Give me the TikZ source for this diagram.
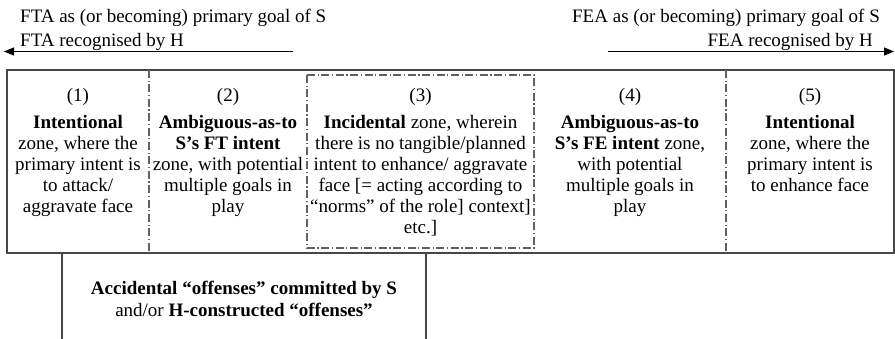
\documentclass[tikz,border=0pt]{standalone}
\usepackage{fontspec}
\setmainfont{Liberation Serif}
\usetikzlibrary{arrows.meta}
\begin{document}
\begin{tikzpicture}[x=1pt,y=-1pt,
  solidline/.style={draw=black!72, line width=1.1pt},
  dashdot/.style={draw=black!62, line width=1.1pt, dash pattern=on 8pt off 2.6pt on 1.2pt off 2.6pt},
  zone/.style={align=center, font=\fontsize{19}{21}\selectfont, inner sep=0pt, anchor=north, text=black},
  hdr/.style={font=\fontsize{19}{22}\selectfont, inner sep=0pt, text=black},
  arr/.style={draw=black, line width=1.1pt, -{Triangle[length=10pt,width=8pt]}}]
\useasboundingbox (0,0) rectangle (895,339);
% header texts
\node[hdr, anchor=base west] (fta1) at (20,23) {FTA as (or becoming) primary goal of S};
\node[hdr, anchor=base west] (fta2) at (20,46.5) {FTA recognised by H};
\node[hdr, anchor=base east] (fea1) at (880,23) {FEA as (or becoming) primary goal of S};
\node[hdr, anchor=base east] (fea2) at (873,46.5) {FEA recognised by H};
% arrows
\coordinate (la0) at (293,51.5);
\coordinate (la1) at (4,51.5);
\coordinate (ra0) at (608,51.5);
\coordinate (ra1) at (894,51.5);
\draw[arr] (la0) -- (la1);
\draw[arr] (ra0) -- (ra1);
% main rectangle
\draw[solidline] (7,70) rectangle (894,253);
% dividers
\draw[dashdot] (149,70) -- (149,253);
\draw[dashdot] (726,70) -- (726,253);
\draw[dashdot] (307,75) rectangle (534,248);
% zone texts
\node[zone] (z1) at (78,86) {\rule{0pt}{15pt}(1)\\[6pt]\textbf{Intentional}\\zone, where the\\primary intent is\\to attack/\\aggravate face};
\node[zone] (z2) at (228,86) {\rule{0pt}{15pt}(2)\\[6pt]\textbf{Ambiguous-as-to}\\\textbf{S’s FT intent}\\zone, with potential\\multiple goals in\\play};
\node[zone] (z3) at (420.5,86) {\rule{0pt}{15pt}(3)\\[6pt]\textbf{Incidental} zone, wherein\\there is no tangible/planned\\intent to enhance/ aggravate\\face [= acting according to\\“norms” of the role] context]\\etc.]};
\node[zone] (z4) at (630,86) {\rule{0pt}{15pt}(4)\\[6pt]\textbf{Ambiguous-as-to}\\\textbf{S’s FE intent} zone,\\with potential\\multiple goals in\\play};
\node[zone] (z5) at (810,86) {\rule{0pt}{15pt}(5)\\[6pt]\textbf{Intentional}\\zone, where the\\primary intent is\\to enhance face};
% bottom box
\draw[solidline] (62,339) -- (62,253) -- (426,253) -- (426,339);
\node[zone, font=\fontsize{19}{22}\selectfont] (acc) at (244,279) {\rule{0pt}{15pt}\textbf{Accidental “offenses” committed by S}\\and/or \textbf{H-constructed “offenses”}};
\end{tikzpicture}
\end{document}
